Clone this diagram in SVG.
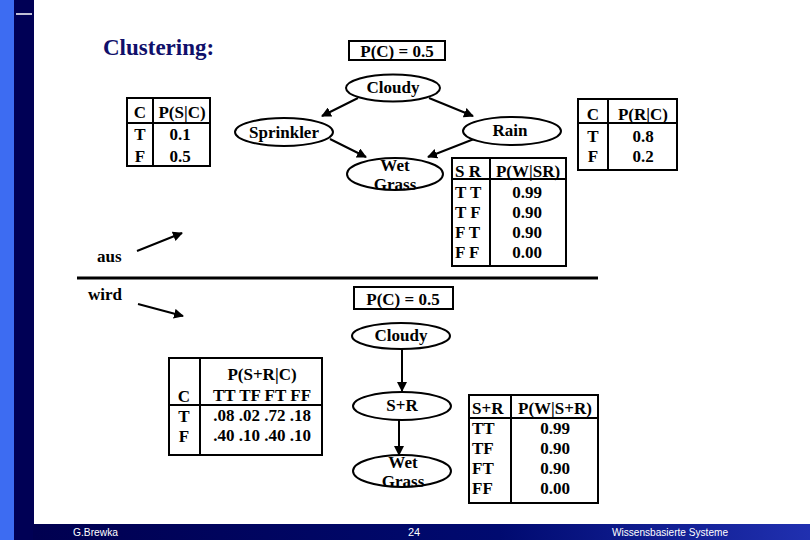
<svg xmlns="http://www.w3.org/2000/svg" width="810" height="540" viewBox="0 0 810 540">
<style>
.t{font-family:"Liberation Serif","Times New Roman",serif;font-weight:bold;font-size:17px;fill:#000}
.m{text-anchor:middle}
.box{fill:none;stroke:#000;stroke-width:2}
.ell{fill:#fff;stroke:#000;stroke-width:2}
.ln{stroke:#000;stroke-width:2;fill:none}
.ft{font-family:"Liberation Sans Narrow","Liberation Sans",Arial,sans-serif;font-size:11px;fill:#fff}
</style>
<defs>
<marker id="ah" viewBox="0 0 10 10" refX="9" refY="5" markerWidth="5" markerHeight="5" orient="auto" markerUnits="strokeWidth">
<path d="M0,0 L10,5 L0,10 z" fill="#000"/>
</marker>
<linearGradient id="fg" x1="0" y1="0" x2="1" y2="0">
<stop offset="0" stop-color="#000050"/>
<stop offset="0.6" stop-color="#000a70"/>
<stop offset="1" stop-color="#2030b0"/>
</linearGradient>
</defs>
<rect width="810" height="540" fill="#fff"/>
<!-- slide frame -->
<g id="frame">
<rect x="0" y="0" width="14" height="540" fill="#3d6cf2"/>
<rect x="14" y="0" width="20" height="540" fill="#000055"/>
<line x1="16" y1="14" x2="32" y2="14" stroke="#fff" stroke-width="1.5"/>
<rect x="33" y="524" width="777" height="16" fill="url(#fg)"/>
<text class="ft" x="73" y="536" textLength="45" lengthAdjust="spacingAndGlyphs">G.Brewka</text>
<text class="ft" x="408" y="536">24</text>
<text class="ft" x="612" y="536" textLength="116" lengthAdjust="spacingAndGlyphs">Wissensbasierte Systeme</text>
</g>
<text x="103" y="55" font-family="'Liberation Serif','Times New Roman',serif" font-weight="bold" font-size="23" fill="#10106a">Clustering:</text>

<!-- connectors -->
<g id="connectors">
<line class="ln" x1="358" y1="98" x2="322" y2="116" marker-end="url(#ah)"/>
<line class="ln" x1="429" y1="98" x2="473" y2="116" marker-end="url(#ah)"/>
<line class="ln" x1="330" y1="139" x2="366" y2="157" marker-end="url(#ah)"/>
<line class="ln" x1="474" y1="139" x2="428" y2="157" marker-end="url(#ah)"/>
<line class="ln" x1="137" y1="251" x2="182" y2="233" marker-end="url(#ah)"/>
<line class="ln" x1="138" y1="304" x2="183" y2="316" marker-end="url(#ah)"/>
<line class="ln" x1="402" y1="349" x2="402" y2="391" marker-end="url(#ah)"/>
<line class="ln" x1="399" y1="420" x2="399" y2="455" marker-end="url(#ah)"/>
</g>

<!-- top network -->
<g id="pc1"><rect class="box" x="349" y="41" width="96" height="19"/><text class="t m" x="397" y="57" font-size="18">P(C) = 0.5</text></g>
<g id="cloudy1"><ellipse class="ell" cx="393" cy="88" rx="47" ry="13.5"/><text class="t m" x="393" y="93">Cloudy</text></g>
<g id="sprinkler"><ellipse class="ell" cx="284" cy="132" rx="49" ry="14"/><text class="t m" x="284" y="138">Sprinkler</text></g>
<g id="rain"><ellipse class="ell" cx="512" cy="131" rx="49" ry="14"/><text class="t m" x="510" y="136">Rain</text></g>
<g id="wetgrass1"><ellipse class="ell" cx="395" cy="174" rx="48" ry="16"/><text class="t m" x="395" y="171">Wet</text><text class="t m" x="395" y="190">Grass</text></g>

<g id="tableS">
<rect class="box" x="127" y="98" width="83" height="68"/>
<line class="ln" x1="153" y1="98" x2="153" y2="166"/>
<line class="ln" x1="127" y1="123" x2="210" y2="123"/>
<text class="t m" x="140" y="118">C</text><text class="t m" x="182" y="118">P(S|C)</text>
<text class="t m" x="140" y="140">T</text><text class="t m" x="180" y="140">0.1</text>
<text class="t m" x="140" y="162">F</text><text class="t m" x="180" y="162">0.5</text>
</g>
<g id="tableR">
<rect class="box" x="578" y="99" width="99" height="71"/>
<line class="ln" x1="608" y1="99" x2="608" y2="170"/>
<line class="ln" x1="578" y1="123" x2="677" y2="123"/>
<text class="t m" x="593" y="120">C</text><text class="t m" x="643" y="120">P(R|C)</text>
<text class="t m" x="593" y="142">T</text><text class="t m" x="643" y="142">0.8</text>
<text class="t m" x="593" y="162">F</text><text class="t m" x="643" y="162">0.2</text>
</g>
<g id="tableW">
<rect class="box" x="452" y="158" width="114" height="108"/>
<line class="ln" x1="490" y1="158" x2="490" y2="266"/>
<line class="ln" x1="452" y1="179" x2="566" y2="179"/>
<text class="t" x="455" y="177">S R</text><text class="t m" x="528" y="177">P(W|SR)</text>
<text class="t" x="455" y="198">T T</text><text class="t m" x="527" y="198">0.99</text>
<text class="t" x="455" y="218">T F</text><text class="t m" x="527" y="218">0.90</text>
<text class="t" x="455" y="238">F T</text><text class="t m" x="527" y="238">0.90</text>
<text class="t" x="455" y="258">F F</text><text class="t m" x="527" y="258">0.00</text>
</g>

<!-- middle -->
<text class="t" x="97" y="262">aus</text>
<text class="t" x="88" y="300">wird</text>
<line x1="77" y1="278" x2="598" y2="278" stroke="#000" stroke-width="3"/>

<!-- bottom network -->
<g id="pc2"><rect class="box" x="354" y="287" width="99" height="22"/><text class="t m" x="403" y="305" font-size="18">P(C) = 0.5</text></g>
<g id="cloudy2"><ellipse class="ell" cx="401" cy="336" rx="49" ry="13"/><text class="t m" x="401" y="341">Cloudy</text></g>
<g id="sr"><ellipse class="ell" cx="402" cy="406" rx="49" ry="14"/><text class="t m" x="402" y="411">S+R</text></g>
<g id="wetgrass2"><ellipse class="ell" cx="402" cy="471" rx="49" ry="16"/><text class="t m" x="403" y="468">Wet</text><text class="t m" x="403" y="487">Grass</text></g>

<g id="tableSR">
<rect class="box" x="169" y="358" width="153" height="97"/>
<line class="ln" x1="200" y1="358" x2="200" y2="455"/>
<line class="ln" x1="169" y1="405" x2="322" y2="405"/>
<text class="t m" x="262" y="380">P(S+R|C)</text>
<text class="t m" x="184" y="402">C</text><text class="t m" x="262" y="401">TT TF FT FF</text>
<text class="t m" x="184" y="422">T</text><text class="t m" x="262" y="421">.08 .02 .72 .18</text>
<text class="t m" x="184" y="442">F</text><text class="t m" x="262" y="441">.40 .10 .40 .10</text>
</g>
<g id="tableWSR">
<rect class="box" x="469" y="395" width="129" height="108"/>
<line class="ln" x1="511" y1="395" x2="511" y2="503"/>
<line class="ln" x1="469" y1="418" x2="598" y2="418"/>
<text class="t" x="472" y="414">S+R</text><text class="t m" x="555" y="414">P(W|S+R)</text>
<text class="t" x="472" y="434">TT</text><text class="t m" x="555" y="434">0.99</text>
<text class="t" x="472" y="454">TF</text><text class="t m" x="555" y="454">0.90</text>
<text class="t" x="472" y="474">FT</text><text class="t m" x="555" y="474">0.90</text>
<text class="t" x="472" y="494">FF</text><text class="t m" x="555" y="494">0.00</text>
</g>
</svg>
